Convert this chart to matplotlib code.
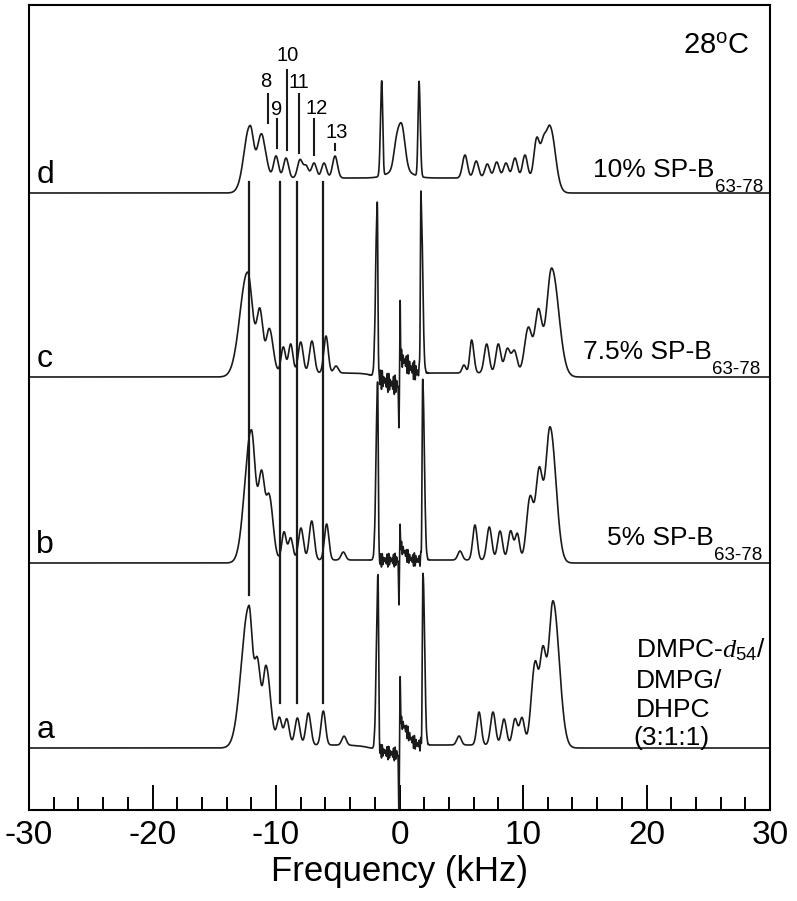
import numpy as np
import matplotlib.pyplot as plt

plt.rcParams['font.family'] = ['Liberation Sans', 'DejaVu Sans']
plt.rcParams['mathtext.fontset'] = 'custom'
plt.rcParams['mathtext.rm'] = 'Liberation Sans'
plt.rcParams['mathtext.it'] = 'Liberation Serif:italic'
plt.rcParams['axes.unicode_minus'] = False

# peaks: (position kHz, height, width low side, width high side)
peaks_a = [
    (-12.2, 138, 0.60, 0.28), (-11.5, 80, 0.25, 0.25), (-10.8, 78, 0.25, 0.35),
    (-9.73, 27, 0.20, 0.20), (-9.13, 26, 0.20, 0.20), (-8.27, 27, 0.20, 0.20),
    (-7.38, 32, 0.20, 0.20), (-6.17, 34, 0.18, 0.18), (-4.49, 9, 0.18, 0.18),
    (-1.74, 176, 0.13, 0.05), (-0.10, -9, 1.50, 0.05), (-0.05, -62, 0.03, 0.03),
    (0.05, 45, 0.02, 0.03), (0.06, 22, 0.02, 0.55), (1.90, 173, 0.05, 0.13),
    (4.82, 9, 0.18, 0.18), (6.44, 33, 0.18, 0.18), (7.57, 33, 0.20, 0.20),
    (8.46, 26, 0.20, 0.20), (9.35, 26, 0.20, 0.20), (9.92, 27, 0.20, 0.20),
    (10.97, 80, 0.30, 0.25), (11.60, 87, 0.25, 0.25), (12.43, 144, 0.35, 0.50),
]
peaks_b = [
    (-12.0, 130, 0.52, 0.33), (-11.16, 82, 0.25, 0.25), (-10.54, 62, 0.25, 0.30),
    (-9.35, 28, 0.18, 0.18), (-8.81, 22, 0.18, 0.18), (-7.98, 32, 0.20, 0.20),
    (-7.11, 39, 0.20, 0.20), (-5.90, 36, 0.18, 0.18), (-4.55, 8, 0.18, 0.18),
    (-1.77, 177, 0.13, 0.05), (-0.05, -43, 0.03, 0.03), (0.04, 20, 0.02, 0.04),
    (0.05, 12, 0.02, 0.40), (1.88, 180, 0.05, 0.13),
    (4.90, 9, 0.18, 0.18), (6.11, 35, 0.18, 0.18), (7.27, 33, 0.20, 0.20),
    (8.14, 29, 0.20, 0.20), (9.00, 29, 0.20, 0.20), (9.54, 26, 0.18, 0.18),
    (10.57, 62, 0.28, 0.27), (11.30, 85, 0.27, 0.27), (12.19, 133, 0.36, 0.47),
]
peaks_c = [
    (-12.3, 101, 0.62, 0.40), (-11.3, 60, 0.25, 0.25), (-10.54, 44, 0.25, 0.30),
    (-9.41, 26, 0.18, 0.18), (-8.81, 29, 0.18, 0.18), (-8.00, 31, 0.20, 0.20),
    (-7.09, 32, 0.20, 0.20), (-5.95, 37, 0.18, 0.18), (-5.14, 7, 0.18, 0.18),
    (-1.80, 173, 0.13, 0.05), (-0.10, -12, 1.20, 0.05), (-0.05, -45, 0.03, 0.03),
    (0.05, 55, 0.02, 0.03), (0.06, 14, 0.02, 0.60), (1.74, 176, 0.05, 0.13),
    (5.22, 8, 0.15, 0.15), (5.84, 33, 0.15, 0.18), (7.06, 29, 0.20, 0.20),
    (8.00, 29, 0.20, 0.20), (8.73, 24, 0.22, 0.22), (9.30, 22, 0.22, 0.22),
    (10.43, 45, 0.30, 0.28), (11.24, 61, 0.28, 0.28), (12.32, 105, 0.40, 0.57),
]
peaks_d = [
    (-12.1, 53, 0.50, 0.30), (-11.35, 27, 0.22, 0.22), (-11.03, 30, 0.22, 0.30),
    (-10.00, 22, 0.20, 0.20), (-9.19, 20, 0.20, 0.20), (-8.06, 18, 0.20, 0.20),
    (-7.57, 12, 0.20, 0.20), (-6.92, 15, 0.20, 0.20), (-6.11, 15, 0.20, 0.20),
    (-5.22, 22, 0.20, 0.20), (-1.44, 95, 0.10, 0.08), (-0.30, 14, 0.20, 0.20),
    (0.15, 46, 0.32, 0.28), (0.00, 8, 0.90, 0.90), (1.58, 95, 0.08, 0.10),
    (5.30, 23, 0.20, 0.20), (6.21, 17, 0.20, 0.20), (7.11, 14, 0.20, 0.20),
    (7.87, 16, 0.20, 0.20), (8.62, 15, 0.20, 0.20), (9.35, 20, 0.20, 0.20),
    (10.16, 23, 0.20, 0.20), (11.11, 39, 0.22, 0.22), (11.64, 30, 0.22, 0.22),
    (12.19, 52, 0.30, 0.44),
]
spectra = [peaks_a, peaks_b, peaks_c, peaks_d]
letters = ['a', 'b', 'c', 'd']
baselines = [62, 247, 433, 617]      # vertical offset of each trace
plateau = [3, 3, 4, 15]              # flat part of the powder pattern
edge = [12.9, 12.7, 12.9, 12.6]
ripple = [7, 7, 10, 0]               # noise between the two central lines
ripple_span = [(-1.74, 1.90), (-1.77, 1.88), (-1.80, 1.74), (-1.44, 1.58)]

guide_x = [-12.2, -9.7, -8.3, -6.2]
guide_bottom = [215, 107, 107, 107]
guide_top = 628

assign_x = [-10.65, -9.9, -9.1, -8.15, -6.9, -5.2]
assign_lo = [687, 662, 660, 657, 655, 660]
assign_hi = [716, 691, 740, 716, 691, 666]
assign_lbl = ['8', '9', '10', '11', '12', '13']
assign_lbl_x = [-10.8, -9.92, -9.03, -8.14, -6.68, -5.06]
assign_lbl_y = [729, 701, 755, 728, 702, 678]


def band(x, pos, h, wlo, whi):
    w = np.where(x < pos, wlo, whi)
    return h * np.exp(-0.5 * ((x - pos) / w) ** 2)


freq = np.linspace(-30, 30, 24001)

fig = plt.figure(figsize=(7.97, 9.01), dpi=100)
ax = fig.add_axes([29 / 797, 1 - 810 / 901, 741 / 797, 805 / 901])

for i in range(4):
    y = np.zeros_like(freq)
    for p in spectra[i]:
        y += band(freq, *p)
    e = edge[i]
    y += plateau[i] / ((1 + np.exp((freq - e) / 0.15)) * (1 + np.exp((-e - freq) / 0.15)))
    if ripple[i] > 0:
        lo, hi = ripple_span[i]
        dist = np.clip(np.maximum(lo + 0.05 - freq, freq - hi + 0.05), 0, None)
        wig = np.sin(2 * np.pi * freq / 0.13) * (0.6 + 0.4 * np.sin(2 * np.pi * freq / 0.53))
        y += ripple[i] * wig * np.exp(-dist / 0.2)
    ax.plot(freq, y + baselines[i], color='#1a1a1a', lw=1.2)
    ax.text(-29.4, baselines[i] + 10, letters[i], fontsize=23, ha='left', va='baseline')

# guide lines through the spectra
for gx, gb in zip(guide_x, guide_bottom):
    ax.plot([gx, gx], [gb, guide_top], color='#1a1a1a', lw=1.6)

# assignments on the top spectrum
for ax_x, lo, hi in zip(assign_x, assign_lo, assign_hi):
    ax.plot([ax_x, ax_x], [lo, hi], color='#1a1a1a', lw=1.5)
for t, tx, ty in zip(assign_lbl, assign_lbl_x, assign_lbl_y):
    ax.text(tx, ty, t, fontsize=14.5, ha='center', va='center')

ax.text(22.95, 757, r'28$^{\mathrm{o}}$C', fontsize=21, ha='left', va='baseline')

# sample labels
for lbl, lx, ly in [('10% SP-B', 15.67, 633), ('7.5% SP-B', 14.86, 451), ('5% SP-B', 16.8, 265)]:
    t = ax.text(lx, ly, lbl, fontsize=19, ha='left', va='baseline')
    ax.annotate('63-78', xy=(1, 0), xycoords=t, xytext=(0.5, -7), textcoords='offset points',
                fontsize=13.5, ha='left', va='baseline')

ax.text(19.15, 153, r'DMPC-$d_{54}$/', fontsize=19, ha='left', va='baseline')
ax.text(19.15, 122, 'DMPG/', fontsize=19, ha='left', va='baseline')
ax.text(19.15, 93, 'DHPC', fontsize=19, ha='left', va='baseline')
ax.text(18.9, 65, '(3:1:1)', fontsize=19, ha='left', va='baseline')

ax.set_xlim(-30, 30)
ax.set_ylim(0, 805)
ax.set_xticks(np.arange(-30, 31, 10))
ax.set_xticks(np.arange(-30, 31, 2), minor=True)
ax.tick_params(axis='x', which='major', direction='in', length=18, width=1.4, labelsize=24, pad=7)
ax.tick_params(axis='x', which='minor', direction='in', length=9.5, width=1.4)
ax.set_yticks([])
for s in ax.spines.values():
    s.set_linewidth(1.5)
ax.set_xlabel('Frequency (kHz)', fontsize=25, labelpad=3)

plt.savefig('out.png', dpi=100)
